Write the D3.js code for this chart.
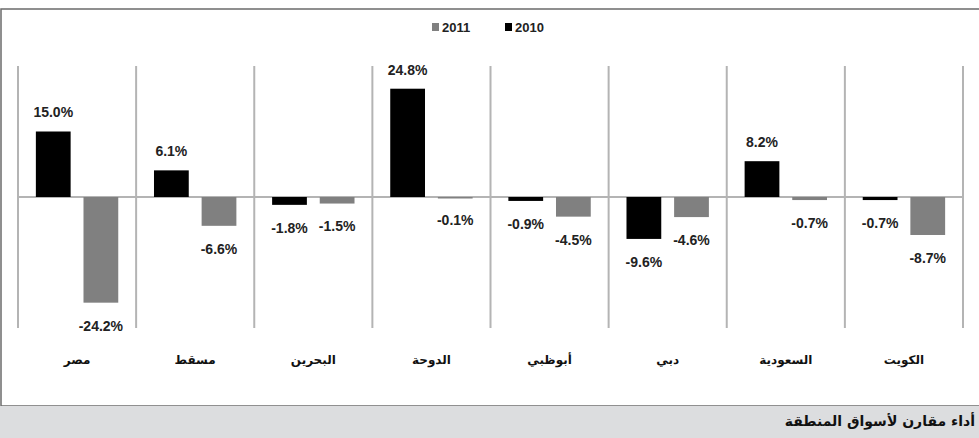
<!DOCTYPE html>
<html><head><meta charset="utf-8">
<script src="https://cdn.jsdelivr.net/npm/d3@7/dist/d3.min.js"></script>
<style>
html,body{margin:0;padding:0;background:#fff;}
svg{display:block;}
</style></head>
<body>
<svg id="chart" width="979" height="438"></svg>
<script>
const categories = ["مصر","مسقط","البحرين","الدوحة","أبوظبي","دبي","السعودية","الكويت"];
const values2010 = [15.0, 6.1, -1.8, 24.8, -0.9, -9.6, 8.2, -0.7];
const values2011 = [-24.2, -6.6, -1.5, -0.1, -4.5, -4.6, -0.7, -8.7];
const seriesNames = ["2010","2011"];
const legendOrder = ["2011","2010"];
const caption = "أداء مقارن لأسواق المنطقة";

const colors = {"2010":"#000000","2011":"#808080"};
const svg = d3.select("#chart");
const W = 979, H = 438;
const fmt = d3.formatLocale({decimal:".", thousands:",", grouping:[3], currency:["",""], minus:"-"}).format(".1f");

// frame
svg.append("rect").attr("x",0).attr("y",0).attr("width",W).attr("height",H).attr("fill","#fff");
svg.append("rect").attr("x",1).attr("y",9).attr("width",W+4).attr("height",397)
  .attr("fill","none").attr("stroke","#6b6b6b").attr("stroke-width",1.5);
// caption bar
svg.append("rect").attr("x",0).attr("y",406).attr("width",W).attr("height",32).attr("fill","#dcdddf");
svg.append("text").attr("x",975).attr("y",421).attr("dy","0.35em").attr("text-anchor","end")
  .style("font-family","'DejaVu Sans', sans-serif").style("font-weight","bold")
  .style("font-size","14px").attr("fill","#111").text(caption);

const x0 = d3.scaleBand().domain(categories).range([18,963]).padding(0);
const x1 = d3.scaleBand().domain(seriesNames).range([0,x0.bandwidth()]).paddingInner(0.27).paddingOuter(0.375);
const y = d3.scaleLinear().domain([-30,30]).range([328,66]);

const grid = svg.append("g");
const bounds = categories.map(c=>x0(c)).concat([x0.range()[1]]);
grid.selectAll("line.v").data(bounds).enter().append("line")
  .attr("x1",d=>d).attr("x2",d=>d).attr("y1",y(30)).attr("y2",y(-30))
  .attr("stroke","#b4b4b4").attr("stroke-width",2);
grid.append("line").attr("x1",x0.range()[0]).attr("x2",x0.range()[1])
  .attr("y1",y(0)).attr("y2",y(0)).attr("stroke","#b4b4b4").attr("stroke-width",2);

const data = [];
categories.forEach((c,i)=>{
  data.push({cat:c, s:"2010", v:values2010[i]});
  data.push({cat:c, s:"2011", v:values2011[i]});
});

svg.append("g").selectAll("rect").data(data).enter().append("rect")
  .attr("x",d=>x0(d.cat)+x1(d.s))
  .attr("width",x1.bandwidth())
  .attr("y",d=>y(Math.max(0,d.v)))
  .attr("height",d=>Math.max(1.5,Math.abs(y(d.v)-y(0))))
  .attr("fill",d=>colors[d.s]);

svg.append("g").selectAll("text").data(data).enter().append("text")
  .attr("x",d=>x0(d.cat)+x1(d.s)+x1.bandwidth()/2)
  .attr("y",d=>d.v>=0 ? y(d.v)-19 : y(d.v)+23)
  .attr("dy","0.35em")
  .attr("text-anchor","middle")
  .style("font-family","'Liberation Sans', Arial, sans-serif").style("font-weight","bold")
  .style("font-size","14px").attr("fill","#222")
  .text(d=>fmt(d.v)+"%");

// category labels
svg.append("g").selectAll("text").data(categories).enter().append("text")
  .attr("x",d=>x0(d)+x0.bandwidth()/2).attr("y",360).attr("dy","0.35em")
  .attr("text-anchor","middle")
  .style("font-family","'DejaVu Sans', sans-serif").style("font-weight","bold")
  .style("font-size","12px").attr("fill","#111").text(d=>d);

// legend
const lg = svg.append("g");
const lgX = [432, 505];
legendOrder.forEach((s,i)=>{
  lg.append("rect").attr("x",lgX[i]).attr("y",23).attr("width",7).attr("height",8).attr("fill",colors[s]);
  lg.append("text").attr("x",lgX[i]+10).attr("y",27).attr("dy","0.35em")
    .style("font-family","'Liberation Sans', Arial, sans-serif").style("font-weight","bold")
    .style("font-size","13px").attr("fill","#222").text(s);
});
</script>
</body></html>
